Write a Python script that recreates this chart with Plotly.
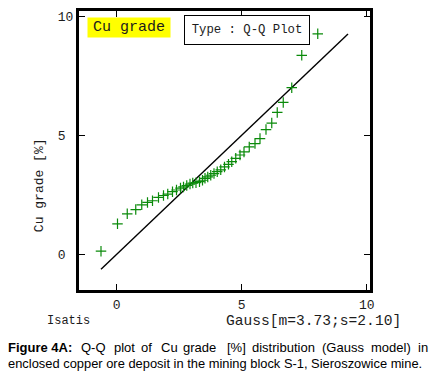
import plotly.graph_objects as go

# Q-Q data (Gauss quantile vs sorted Cu grade)
gauss_q = [-0.63, 0.03, 0.42, 0.76, 1.00, 1.23, 1.43, 1.67, 1.87, 2.04, 2.23, 2.39,
           2.55, 2.67, 2.80, 2.93, 3.04, 3.17, 3.31, 3.43, 3.53, 3.64, 3.76, 3.89,
           4.02, 4.16, 4.31, 4.47, 4.60, 4.76, 4.93, 5.09, 5.30, 5.53, 5.73, 5.97,
           6.20, 6.42, 6.66, 7.00, 7.40, 8.04]
cu_grade = [0.13, 1.28, 1.70, 1.88, 2.08, 2.18, 2.25, 2.39, 2.47, 2.53, 2.63, 2.70,
            2.78, 2.83, 2.89, 2.95, 2.99, 3.01, 3.05, 3.11, 3.19, 3.25, 3.32, 3.39,
            3.47, 3.55, 3.67, 3.78, 3.89, 4.03, 4.17, 4.30, 4.51, 4.65, 4.86, 5.24,
            5.51, 5.96, 6.38, 7.00, 8.36, 9.26]
# first bisector
line_x = [-0.63, 9.25]
line_y = [-0.63, 9.25]

x_ticks = [0, 5, 10]
x_ticktext = ["0", "5", "10"]
y_ticks = [0, 5, 10]
y_ticktext = ["0\u00a0", "5\u00a0", "10"]

MONO = "Liberation Mono, Courier New, monospace"
SANS = "Liberation Sans, Arial, sans-serif"
TXT = "#1c1c1c"

L, R, T, B = 79, 66, 8, 87
W, H = 436, 377
PW, PH = W - L - R, H - T - B


def px(x):
    return (x - L) / PW


def py(y):
    return (H - B - y) / PH


fig = go.Figure()
fig.add_trace(go.Scatter(x=line_x, y=line_y, mode="lines",
                         line=dict(color="black", width=1.4), showlegend=False,
                         hoverinfo="skip"))
fig.add_trace(go.Scatter(x=gauss_q, y=cu_grade, mode="markers",
                         marker=dict(symbol="cross-thin", size=7.5,
                                     line=dict(color="#0a8a0a", width=1.2),
                                     color="#0a8a0a"),
                         showlegend=False))

axis_common = dict(showline=True, linewidth=3, linecolor="black", mirror="allticks",
                   ticks="inside", ticklen=6, tickwidth=1.3, tickcolor="black",
                   showgrid=False, zeroline=False,
                   tickfont=dict(family=MONO, size=13, color=TXT))

fig.update_xaxes(range=[-1.51, 10.13], tickvals=x_ticks, ticktext=x_ticktext,
                 **axis_common)
fig.update_yaxes(range=[-1.50, 10.22], tickvals=y_ticks, ticktext=y_ticktext,
                 **axis_common)

P = dict(xref="paper", yref="paper", showarrow=False)
annotations = [
    dict(text="Cu grade", x=px(86.7), y=py(14.3), xanchor="left", yanchor="top",
         bgcolor="#ffff00", width=80, height=17, borderpad=1,
         font=dict(family=MONO, size=15, color=TXT), **P),
    dict(text="Type : Q-Q Plot", x=px(184.3), y=py(12.3), xanchor="left", yanchor="top",
         bgcolor="white", bordercolor="black", borderwidth=1,
         width=122, height=26, borderpad=1,
         font=dict(family=MONO, size=12.3, color=TXT), **P),
    dict(text="Cu grade [%]", x=px(39), y=py(184), textangle=-90, xanchor="center",
         yanchor="middle", font=dict(family=MONO, size=13, color=TXT), **P),
    dict(text="Isatis", x=px(45), y=py(321), xanchor="left", yanchor="middle",
         font=dict(family=MONO, size=12, color=TXT), **P),
    dict(text="Gauss[m=3.73;s=2.10]", x=px(224), y=py(321), xanchor="left",
         yanchor="middle", font=dict(family=MONO, size=14.6, color=TXT), **P),
]

# justified first caption line: word and left position in pixels
caption1 = [("<b>Figure 4A:</b>", 7), ("Q-Q", 80), ("plot", 112.5), ("of", 139.5),
            ("Cu", 160), ("grade", 182), ("[%]", 225.5), ("distribution", 250.5),
            ("(Gauss", 321), ("model)", 370.2), ("in", 417)]
for word, xpos in caption1:
    annotations.append(dict(text=word, x=px(xpos - 1), y=py(348.5), xanchor="left",
                            yanchor="middle",
                            font=dict(family=SANS, size=13, color="black"), **P))
annotations.append(dict(
    text="enclosed copper ore deposit in the mining block S-1, Sieroszowice mine.",
    x=px(6), y=py(364), xanchor="left", yanchor="middle",
    font=dict(family=SANS, size=12.9, color="black"), **P))

fig.update_layout(width=W, height=H, margin=dict(l=L, r=R, t=T, b=B),
                  paper_bgcolor="white", plot_bgcolor="white",
                  annotations=annotations)

fig.write_html("out.html", config={"displayModeBar": False},
               post_script="document.body.style.margin='0px';document.body.style.padding='0px';")
